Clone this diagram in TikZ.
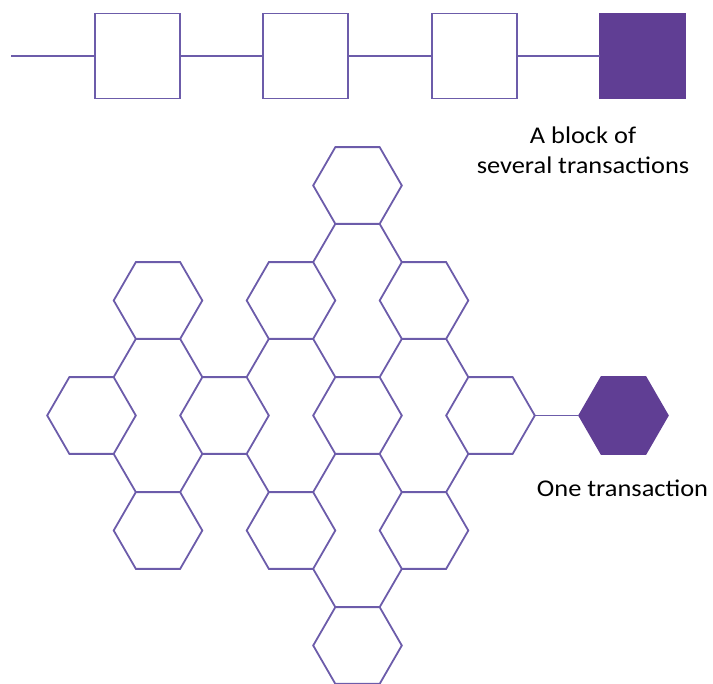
\documentclass[tikz,border=0pt]{standalone}
\usepackage{fontspec}
\setmainfont{Carlito}
\newfontfamily\capfont[FakeStretch=1.1]{Carlito}
\usetikzlibrary{shapes.geometric}
\definecolor{chainline}{RGB}{108,92,170}
\definecolor{chainfill}{RGB}{96,62,148}
\begin{document}
\begin{tikzpicture}[x=1pt,y=-1pt,
  link/.style={draw=chainline, line width=1.8pt},
  hexcell/.style={regular polygon, regular polygon sides=6, minimum size=88.6pt,
    inner sep=0pt, outer sep=0pt, draw=chainline, line width=1.8pt},
  hexfull/.style={hexcell, fill=chainfill, draw=chainfill},
  blockbox/.style={rectangle, minimum size=85pt, inner sep=0pt, outer sep=0pt,
    draw=chainline, line width=1.8pt},
  blockfull/.style={blockbox, fill=chainfill, draw=chainfill},
  caption/.style={font=\capfont\fontsize{24}{30}\selectfont, text=black, inner sep=0pt, align=center}]
\useasboundingbox (0,0) rectangle (713,684);

% --- chain of blocks ---
\coordinate (start) at (11,56);
\node[blockbox]  (b1) at (137.5,56) {};
\node[blockbox]  (b2) at (305.5,56) {};
\node[blockbox]  (b3) at (474.5,56) {};
\node[blockfull] (b4) at (642.5,56) {};
\draw[link] (start) -- (b1.west);
\draw[link] (b1.east) -- (b2.west);
\draw[link] (b2.east) -- (b3.west);
\draw[link] (b3.east) -- (b4.west);
\node[caption, anchor=north] (blocktext) at (583,127) {A block of\\several transactions};

% --- mesh of transactions ---
\node[hexcell] (h0m) at (91.5,415.5) {};
\node[hexcell] (h1u) at (158,300.5) {};
\node[hexcell] (h1d) at (158,530.5) {};
\node[hexcell] (h2m) at (224.5,415.5) {};
\node[hexcell] (h3u) at (291,300.5) {};
\node[hexcell] (h3d) at (291,530.5) {};
\node[hexcell] (h4t) at (357.5,185.5) {};
\node[hexcell] (h4m) at (357.5,415.5) {};
\node[hexcell] (h4b) at (357.5,645.5) {};
\node[hexcell] (h5u) at (424,300.5) {};
\node[hexcell] (h5d) at (424,530.5) {};
\node[hexcell] (h6m) at (490.5,415.5) {};
\node[hexfull] (tx)  at (623.5,415.5) {};

\draw[link] (h0m.60)  -- (h1u.240);
\draw[link] (h0m.-60) -- (h1d.120);
\draw[link] (h1u.-60) -- (h2m.120);
\draw[link] (h1d.60)  -- (h2m.240);
\draw[link] (h2m.60)  -- (h3u.240);
\draw[link] (h2m.-60) -- (h3d.120);
\draw[link] (h3u.60)  -- (h4t.240);
\draw[link] (h3u.-60) -- (h4m.120);
\draw[link] (h3d.60)  -- (h4m.240);
\draw[link] (h3d.-60) -- (h4b.120);
\draw[link] (h4t.-60) -- (h5u.120);
\draw[link] (h4m.60)  -- (h5u.240);
\draw[link] (h4m.-60) -- (h5d.120);
\draw[link] (h4b.60)  -- (h5d.240);
\draw[link] (h5u.-60) -- (h6m.120);
\draw[link] (h5d.60)  -- (h6m.240);
\draw[link] (h6m.0)   -- (tx.180);

\node[caption, anchor=base] (txtext) at (622.5,497) {One transaction};
\end{tikzpicture}
\end{document}
